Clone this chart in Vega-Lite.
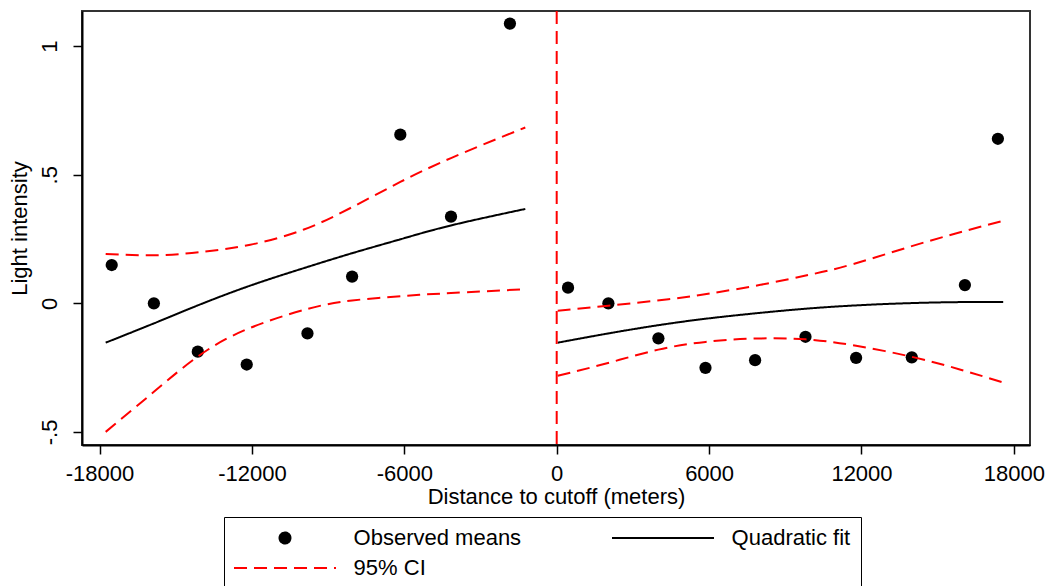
{
  "$schema": "https://vega.github.io/schema/vega-lite/v6.json",
  "width": 948,
  "height": 434,
  "autosize": {"type": "none"},
  "padding": {"left": 82, "top": 11, "right": 26, "bottom": 141},
  "background": "white",
  "config": {
    "font": "Liberation Sans",
    "view": {"stroke": "#333333", "strokeWidth": 2},
    "axis": {
      "grid": false,
      "domainColor": "black",
      "domainWidth": 2,
      "tickColor": "black",
      "tickWidth": 1.5,
      "tickSize": 9,
      "labelFont": "Liberation Sans",
      "labelFontSize": 22,
      "labelColor": "black",
      "titleFont": "Liberation Sans",
      "titleFontSize": 22,
      "titleFontWeight": "normal",
      "titleColor": "black"
    },
    "legend": {
      "columns": 2,
      "direction": "horizontal",
      "columnPadding": 86,
      "rowPadding": 8,
      "padding": 10,
      "strokeColor": "black",
      "symbolSize": 120,
      "symbolStrokeWidth": 2,
      "symbolOffset": 40,
      "labelOffset": 57.6,
      "labelFont": "Liberation Sans",
      "labelFontSize": 22,
      "labelColor": "black",
      "labelLimit": 400
    }
  },
  "data": {
    "values": [
      {"x": -17519, "y": 0.149, "series": "Observed means", "grp": "obs"},
      {"x": -15859, "y": 0.0, "series": "Observed means", "grp": "obs"},
      {"x": -14130, "y": -0.188, "series": "Observed means", "grp": "obs"},
      {"x": -12204, "y": -0.238, "series": "Observed means", "grp": "obs"},
      {"x": -9813, "y": -0.117, "series": "Observed means", "grp": "obs"},
      {"x": -8055, "y": 0.104, "series": "Observed means", "grp": "obs"},
      {"x": -6157, "y": 0.656, "series": "Observed means", "grp": "obs"},
      {"x": -4161, "y": 0.337, "series": "Observed means", "grp": "obs"},
      {"x": -1841, "y": 1.088, "series": "Observed means", "grp": "obs"},
      {"x": 446, "y": 0.061, "series": "Observed means", "grp": "obs"},
      {"x": 2035, "y": 0.0, "series": "Observed means", "grp": "obs"},
      {"x": 4004, "y": -0.136, "series": "Observed means", "grp": "obs"},
      {"x": 5858, "y": -0.251, "series": "Observed means", "grp": "obs"},
      {"x": 7811, "y": -0.221, "series": "Observed means", "grp": "obs"},
      {"x": 9795, "y": -0.130, "series": "Observed means", "grp": "obs"},
      {"x": 11787, "y": -0.212, "series": "Observed means", "grp": "obs"},
      {"x": 13980, "y": -0.210, "series": "Observed means", "grp": "obs"},
      {"x": 16071, "y": 0.071, "series": "Observed means", "grp": "obs"},
      {"x": 17370, "y": 0.640, "series": "Observed means", "grp": "obs"},

      {"x": -17757, "y": -0.153, "series": "Quadratic fit", "grp": "fitL"},
      {"x": -15859, "y": -0.078, "series": "Quadratic fit", "grp": "fitL"},
      {"x": -14130, "y": -0.008, "series": "Quadratic fit", "grp": "fitL"},
      {"x": -12063, "y": 0.069, "series": "Quadratic fit", "grp": "fitL"},
      {"x": -9954, "y": 0.137, "series": "Quadratic fit", "grp": "fitL"},
      {"x": -8055, "y": 0.195, "series": "Quadratic fit", "grp": "fitL"},
      {"x": -6157, "y": 0.249, "series": "Quadratic fit", "grp": "fitL"},
      {"x": -4161, "y": 0.303, "series": "Quadratic fit", "grp": "fitL"},
      {"x": -1236, "y": 0.367, "series": "Quadratic fit", "grp": "fitL"},

      {"x": 40, "y": -0.153, "series": "Quadratic fit", "grp": "fitR"},
      {"x": 2035, "y": -0.117, "series": "Quadratic fit", "grp": "fitR"},
      {"x": 4004, "y": -0.085, "series": "Quadratic fit", "grp": "fitR"},
      {"x": 5858, "y": -0.060, "series": "Quadratic fit", "grp": "fitR"},
      {"x": 7811, "y": -0.039, "series": "Quadratic fit", "grp": "fitR"},
      {"x": 9795, "y": -0.021, "series": "Quadratic fit", "grp": "fitR"},
      {"x": 11787, "y": -0.008, "series": "Quadratic fit", "grp": "fitR"},
      {"x": 13980, "y": 0.001, "series": "Quadratic fit", "grp": "fitR"},
      {"x": 16071, "y": 0.005, "series": "Quadratic fit", "grp": "fitR"},
      {"x": 17579, "y": 0.005, "series": "Quadratic fit", "grp": "fitR"},

      {"x": -17757, "y": 0.192, "series": "95% CI", "grp": "ciLU"},
      {"x": -15859, "y": 0.187, "series": "95% CI", "grp": "ciLU"},
      {"x": -14031, "y": 0.199, "series": "95% CI", "grp": "ciLU"},
      {"x": -12063, "y": 0.228, "series": "95% CI", "grp": "ciLU"},
      {"x": -9954, "y": 0.287, "series": "95% CI", "grp": "ciLU"},
      {"x": -8055, "y": 0.374, "series": "95% CI", "grp": "ciLU"},
      {"x": -6157, "y": 0.472, "series": "95% CI", "grp": "ciLU"},
      {"x": -4161, "y": 0.565, "series": "95% CI", "grp": "ciLU"},
      {"x": -1236, "y": 0.684, "series": "95% CI", "grp": "ciLU"},

      {"x": -17757, "y": -0.500, "series": "95% CI", "grp": "ciLL"},
      {"x": -15859, "y": -0.344, "series": "95% CI", "grp": "ciLL"},
      {"x": -14130, "y": -0.207, "series": "95% CI", "grp": "ciLL"},
      {"x": -12204, "y": -0.101, "series": "95% CI", "grp": "ciLL"},
      {"x": -9813, "y": -0.022, "series": "95% CI", "grp": "ciLL"},
      {"x": -8055, "y": 0.011, "series": "95% CI", "grp": "ciLL"},
      {"x": -6017, "y": 0.029, "series": "95% CI", "grp": "ciLL"},
      {"x": -4161, "y": 0.040, "series": "95% CI", "grp": "ciLL"},
      {"x": -1236, "y": 0.055, "series": "95% CI", "grp": "ciLL"},

      {"x": 40, "y": -0.029, "series": "95% CI", "grp": "ciRU"},
      {"x": 2035, "y": -0.009, "series": "95% CI", "grp": "ciRU"},
      {"x": 4400, "y": 0.016, "series": "95% CI", "grp": "ciRU"},
      {"x": 6140, "y": 0.040, "series": "95% CI", "grp": "ciRU"},
      {"x": 8020, "y": 0.072, "series": "95% CI", "grp": "ciRU"},
      {"x": 9900, "y": 0.110, "series": "95% CI", "grp": "ciRU"},
      {"x": 11717, "y": 0.154, "series": "95% CI", "grp": "ciRU"},
      {"x": 14508, "y": 0.238, "series": "95% CI", "grp": "ciRU"},
      {"x": 17579, "y": 0.321, "series": "95% CI", "grp": "ciRU"},

      {"x": 40, "y": -0.282, "series": "95% CI", "grp": "ciRL"},
      {"x": 2020, "y": -0.232, "series": "95% CI", "grp": "ciRL"},
      {"x": 4004, "y": -0.180, "series": "95% CI", "grp": "ciRL"},
      {"x": 5858, "y": -0.150, "series": "95% CI", "grp": "ciRL"},
      {"x": 7811, "y": -0.137, "series": "95% CI", "grp": "ciRL"},
      {"x": 9795, "y": -0.140, "series": "95% CI", "grp": "ciRL"},
      {"x": 11787, "y": -0.165, "series": "95% CI", "grp": "ciRL"},
      {"x": 13980, "y": -0.208, "series": "95% CI", "grp": "ciRL"},
      {"x": 15903, "y": -0.258, "series": "95% CI", "grp": "ciRL"},
      {"x": 17579, "y": -0.308, "series": "95% CI", "grp": "ciRL"}
    ]
  },
  "layer": [
    {
      "transform": [{"filter": "datum.series === 'Observed means'"}],
      "mark": {"type": "point", "filled": true, "size": 150, "opacity": 1, "strokeWidth": 0},
      "encoding": {
        "x": {
          "field": "x", "type": "quantitative",
          "scale": {"domain": [-18689, 18634], "nice": false, "zero": false},
          "axis": {
            "values": [-18000, -12000, -6000, 0, 6000, 12000, 18000],
            "labelExpr": "'' + datum.value",
            "labelPadding": 9,
            "titlePadding": 2,
            "labelFlush": false,
            "labelOverlap": false
          },
          "title": "Distance to cutoff (meters)"
        },
        "y": {
          "field": "y", "type": "quantitative",
          "scale": {"domain": [-0.551, 1.137], "nice": false, "zero": false},
          "axis": {
            "values": [-0.5, 0, 0.5, 1],
            "labelExpr": "datum.value == 0.5 ? '.5' : (datum.value == -0.5 ? '-.5' : '' + datum.value)",
            "labelAngle": -90,
            "labelAlign": "center",
            "labelBaseline": "bottom",
            "labelPadding": 12,
            "titlePadding": 7,
            "labelFlush": false,
            "labelOverlap": false
          },
          "title": "Light intensity"
        },
        "color": {
          "field": "series", "type": "nominal",
          "scale": {"domain": ["Observed means", "Quadratic fit", "95% CI"], "range": ["black", "black", "red"]},
          "legend": {"title": null, "orient": "none", "legendX": 142, "legendY": 506, "direction": "horizontal"}
        },
        "shape": {
          "field": "series", "type": "nominal",
          "scale": {"domain": ["Observed means", "Quadratic fit", "95% CI"], "range": ["circle", "M-9.31,0H9.31", "M-9.31,0H9.31"]},
          "legend": {"title": null, "orient": "none", "legendX": 142, "legendY": 506, "direction": "horizontal"}
        }
      }
    },
    {
      "transform": [{"filter": "datum.series !== 'Observed means'"}],
      "mark": {"type": "line", "strokeWidth": 2, "interpolate": "natural"},
      "encoding": {
        "x": {"field": "x", "type": "quantitative"},
        "y": {"field": "y", "type": "quantitative"},
        "detail": {"field": "grp", "type": "nominal"},
        "color": {
          "field": "series", "type": "nominal",
          "legend": {"title": null, "orient": "none", "legendX": 142, "legendY": 506, "direction": "horizontal"}
        },
        "strokeDash": {
          "field": "series", "type": "nominal",
          "scale": {"domain": ["Observed means", "Quadratic fit", "95% CI"], "range": [[1, 0], [1, 0], [13, 7]]},
          "legend": {"title": null, "orient": "none", "legendX": 142, "legendY": 506, "direction": "horizontal"}
        }
      }
    },
    {
      "data": {"values": [{"cutoff": 0}]},
      "mark": {"type": "rule", "color": "red", "strokeWidth": 2, "strokeDash": [13, 7]},
      "encoding": {"x": {"field": "cutoff", "type": "quantitative"}}
    }
  ]
}
